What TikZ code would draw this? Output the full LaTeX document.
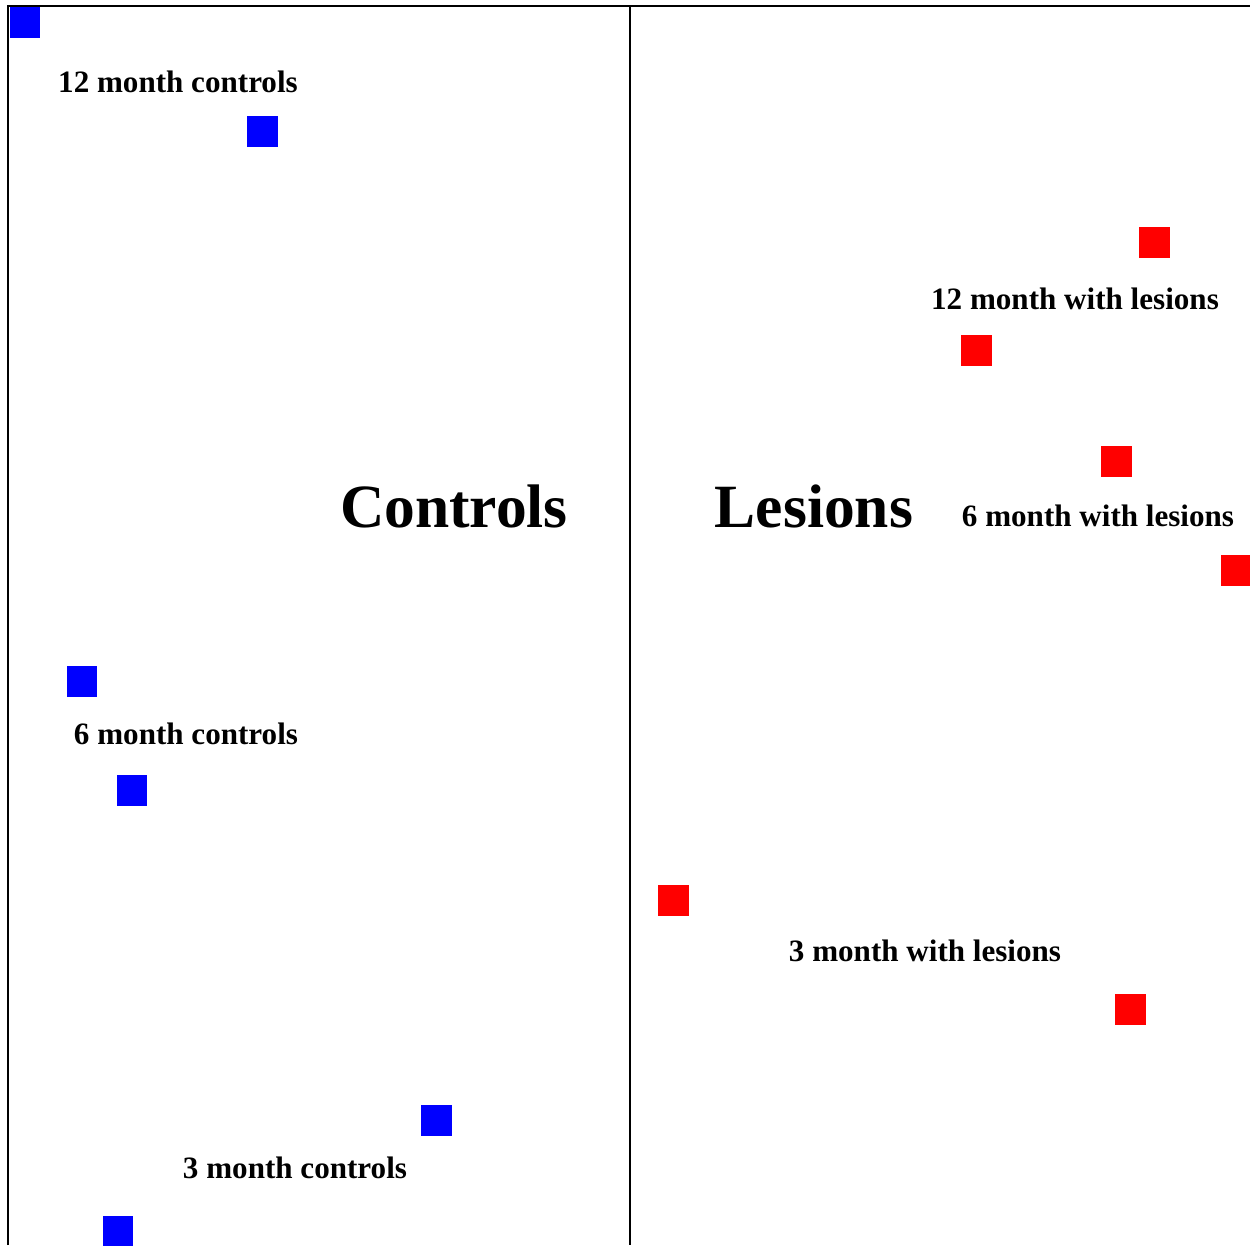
\documentclass[tikz,border=0pt]{standalone}
\usepackage{fontspec}
\setmainfont{Liberation Serif}
\usetikzlibrary{positioning}
\tikzset{
    % frame lines
    frame/.style={
           line width=1.2pt,
           black,},
    % group labels
    grouplabel/.style={
           anchor=base,
           inner sep=0pt,
           font=\fontsize{17.7}{20}\selectfont\bfseries,},
    % big titles
    bigtitle/.style={
           anchor=base,
           inner sep=0pt,
           font=\fontsize{35}{40}\selectfont\bfseries,}
}

\begin{document}
\begin{tikzpicture}[
x=0.02cm, y=-0.02cm,
ctrlbox/.style={rectangle, fill=blue, minimum size=0.62cm, inner sep=0pt},
lesionbox/.style={rectangle, fill=red, minimum size=0.62cm, inner sep=0pt},
]
\useasboundingbox (0,0) rectangle (1250,1245);

%Frame
\coordinate (tl) at (8,6);
\coordinate (tr) at (1250,6);
\coordinate (bl) at (8,1245);
\coordinate (mt) at (630,6);
\coordinate (mb) at (630,1245);
\draw[frame] (bl) -- (tl) -- (tr);
\draw[frame] (mt) -- (mb);

%Titles
\node[bigtitle](controls) at (454,527){Controls};
\node[bigtitle](lesions) at (814,527){Lesions};

%Controls
\node[ctrlbox](c0) at (25,22){};
\node[grouplabel](c12) at (178,92){12 month controls};
\node[ctrlbox](c1) at (262,131){};
\node[ctrlbox](c2) at (82,681){};
\node[grouplabel](c6) at (186,744){6 month controls};
\node[ctrlbox](c3) at (132,790){};
\node[ctrlbox](c4) at (436,1120){};
\node[grouplabel](c3m) at (295,1178){3 month controls};
\node[ctrlbox](c5) at (118,1231){};

%Lesions
\node[lesionbox](l1) at (1154,242){};
\node[grouplabel](l12) at (1075,309){12 month with lesions};
\node[lesionbox](l2) at (976,350){};
\node[lesionbox](l3) at (1116,461){};
\node[grouplabel](l6) at (1098,526){6 month with lesions};
\node[lesionbox](l4) at (1236,570){};
\node[lesionbox](l5) at (673,900){};
\node[grouplabel](l3m) at (925,961){3 month with lesions};
\node[lesionbox](l6) at (1130,1009){};

\end{tikzpicture}
\end{document}
